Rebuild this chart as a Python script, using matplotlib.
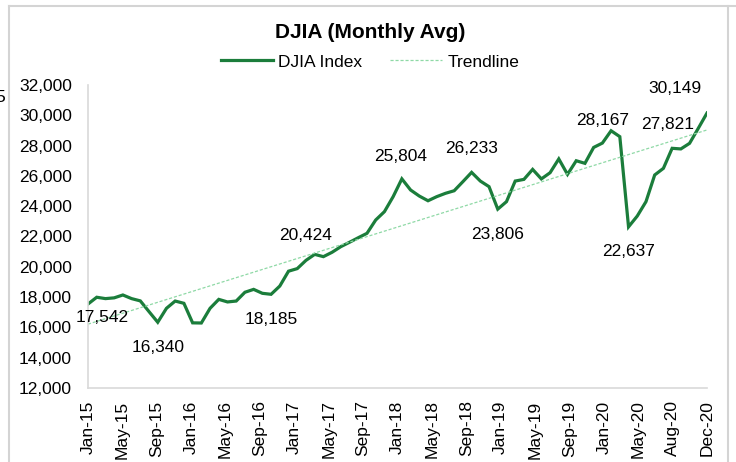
import numpy as np
import matplotlib
matplotlib.use("Agg")
import matplotlib.pyplot as plt
from matplotlib.ticker import FuncFormatter
from matplotlib.lines import Line2D

plt.rcParams['font.family'] = ['Liberation Sans', 'DejaVu Sans']

# monthly average, Jan-15 .. Dec-20
djia = [17542, 17990, 17900, 17950, 18140, 17900, 17750, 17040, 16340, 17260, 17740, 17590,
        16300, 16290, 17260, 17850, 17680, 17740, 18320, 18510, 18250, 18185, 18730, 19710,
        19880, 20424, 20820, 20670, 20960, 21330, 21620, 21920, 22210, 23090, 23640, 24630,
        25804, 25070, 24670, 24360, 24630, 24850, 25020, 25620, 26233, 25660, 25290, 23806,
        24300, 25660, 25770, 26430, 25800, 26210, 27120, 26100, 27000, 26830, 27880, 28167,
        28980, 28590, 22637, 23350, 24300, 26060, 26500, 27821, 27780, 28150, 29140, 30149]

tick_labels = ["Jan-15", "May-15", "Sep-15", "Jan-16", "May-16", "Sep-16", "Jan-17",
               "May-17", "Sep-17", "Jan-18", "May-18", "Sep-18", "Jan-19", "May-19",
               "Sep-19", "Jan-20", "May-20", "Aug-20", "Dec-20"]

# months that get a data label
label_idx = [0, 8, 21, 25, 36, 44, 47, 59, 62, 67, 71]
# label offsets in points (dx, dy)
label_off = [(10.5, -9.5), (0, -18), (0, -18), (0, 18), (-1, 16), (0, 17),
             (0, -18), (0, 16), (0, -18), (-3, 17), (-23, 18)]

green = "#1b7d3b"
trend_col = "#8fd9a6"

x = np.arange(len(djia))
y = np.array(djia, dtype=float)
coef = np.polyfit(x, y, 1)

fig = plt.figure(figsize=(7.36, 4.62), dpi=100)
ax = fig.add_axes([88 / 736, 1 - 388 / 462, (707 - 88) / 736, (388 - 85) / 462])

ax.plot(x, y, color=green, lw=2.3, label="DJIA Index", solid_joinstyle="miter")
ax.plot(x, np.polyval(coef, x), color=trend_col, lw=0.9, ls=(0, (2.5, 1.5)), label="Trendline")

for i, (dx, dy) in zip(label_idx, label_off):
    ax.annotate(f"{djia[i]:,}", (x[i], y[i]), xytext=(dx, dy), textcoords="offset points",
                ha="center", va="center", fontsize=12.5, color="black")

ax.set_xlim(0, len(djia) - 1)
ax.set_ylim(12000, 32000)
ax.set_yticks(np.arange(12000, 32001, 2000))
ax.yaxis.set_major_formatter(FuncFormatter(lambda v, p: f"{int(v):,}"))
ax.set_xticks(np.linspace(0, len(djia) - 1, len(tick_labels)))
ax.set_xticklabels(tick_labels, rotation=90)
ax.tick_params(axis="both", length=0, labelsize=12.5, colors="black")
ax.tick_params(axis="y", pad=11.5)
ax.tick_params(axis="x", pad=9)

for s in ["top", "right"]:
    ax.spines[s].set_visible(False)
for s in ["left", "bottom"]:
    ax.spines[s].set_color("#d9d9d9")
    ax.spines[s].set_linewidth(1.2)

fig.text(0.503, 1 - 32 / 462, "DJIA (Monthly Avg)", ha="center", va="center",
         fontsize=15, fontweight="bold")
fig.legend(loc="center", bbox_to_anchor=(0.503, 1 - 62 / 462), ncol=2, frameon=False,
           fontsize=12.5, handlelength=3, handletextpad=0.3, columnspacing=1.6)

# frame of the surrounding sheet
border = "#d4d4d4"
fig.add_artist(Line2D([9 / 736, 9 / 736], [0, 1 - 6 / 462], transform=fig.transFigure, color=border, lw=1.5))
fig.add_artist(Line2D([9 / 736, 1], [1 - 6 / 462, 1 - 6 / 462], transform=fig.transFigure, color=border, lw=1.5))
fig.add_artist(Line2D([728 / 736, 728 / 736], [0, 1 - 6 / 462], transform=fig.transFigure, color=border, lw=1.5))
fig.text(5 / 736, 1 - 97 / 462, "5", ha="right", va="center", fontsize=12.5)

fig.savefig("out.png", dpi=100)
